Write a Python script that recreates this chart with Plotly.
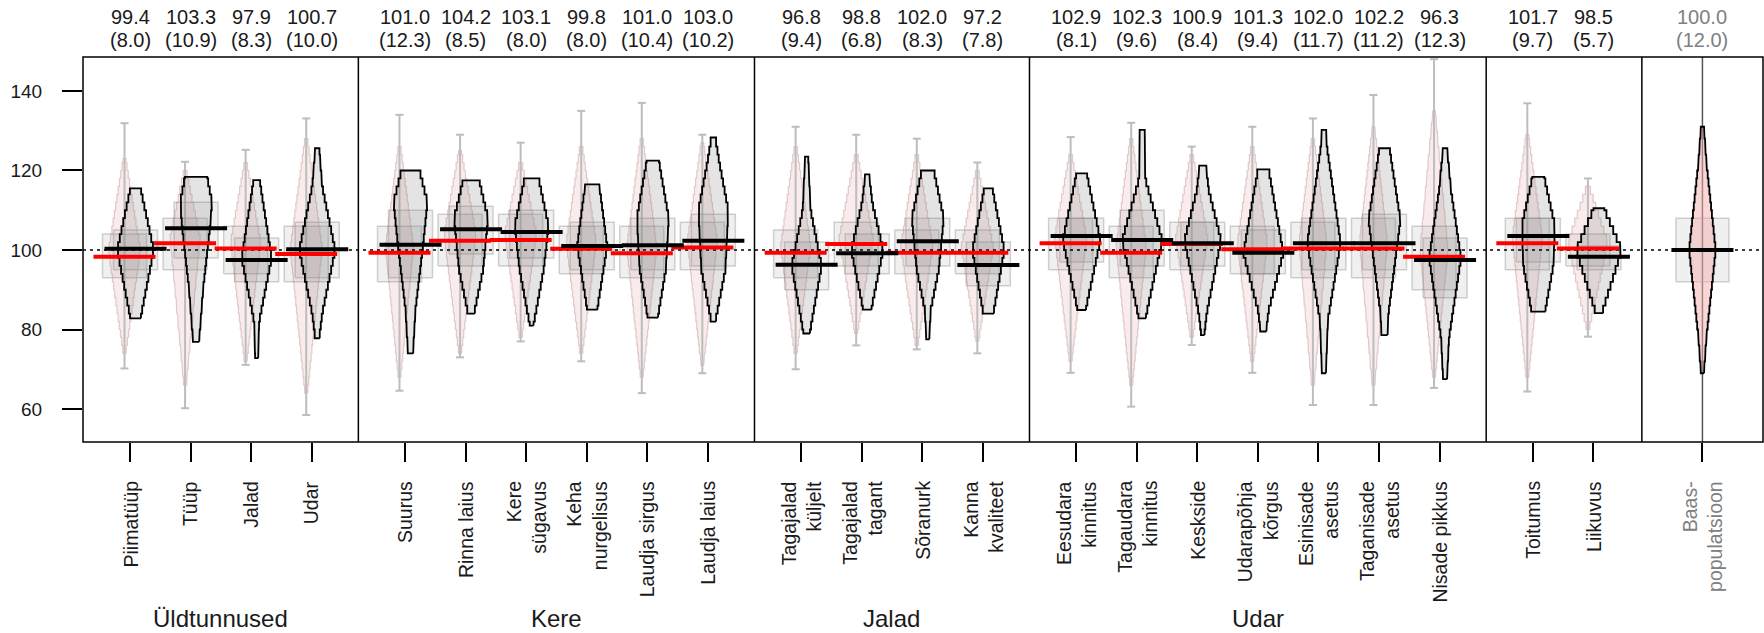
import numpy as np
import plotly.graph_objects as go

categories = ["Piimatüüp", "Tüüp", "Jalad", "Udar",
              "Suurus", "Rinna laius", "Kere<br>sügavus", "Keha<br>nurgelisus", "Laudja sirgus", "Laudja laius",
              "Tagajalad<br>küljelt", "Tagajalad<br>tagant", "Sõranurk", "Kanna<br>kvaliteet",
              "Eesudara<br>kinnitus", "Tagaudara<br>kinnitus", "Keskside", "Udarapõhja<br>kõrgus",
              "Esinisade<br>asetus", "Taganisade<br>asetus", "Nisade pikkus",
              "Toitumus", "Liikuvus", "Baas-<br>populatsioon"]
groups = [0, 0, 0, 0, 1, 1, 1, 1, 1, 1, 2, 2, 2, 2, 3, 3, 3, 3, 3, 3, 3, 4, 4, 5]
group_names = ["Üldtunnused", "Kere", "Jalad", "Udar"]

top_mean = [99.4, 103.3, 97.9, 100.7, 101.0, 104.2, 103.1, 99.8, 101.0, 103.0, 96.8, 98.8, 102.0, 97.2,
            102.9, 102.3, 100.9, 101.3, 102.0, 102.2, 96.3, 101.7, 98.5, 100.0]
top_sd = [8.0, 10.9, 8.3, 10.0, 12.3, 8.5, 8.0, 8.0, 10.4, 10.2, 9.4, 6.8, 8.3, 7.8,
          8.1, 9.6, 8.4, 9.4, 11.7, 11.2, 12.3, 9.7, 5.7, 12.0]

# comparison (pink) series, 23 trait categories
red_mean = [98.3, 101.7, 100.4, 99.0, 99.3, 102.3, 102.5, 100.3, 99.2, 100.6, 99.3, 101.5, 99.3, 99.3,
            101.7, 99.3, 101.5, 100.2, 100.4, 100.4, 98.3, 101.7, 100.4]
range_lo = [70.2, 60.2, 71.1, 58.5, 64.6, 73, 77, 72, 64, 69, 70, 76, 75, 74,
            69.1, 60.6, 76.1, 69.1, 61, 61, 65.3, 64.4, 78.2]
range_hi = [131.9, 122.2, 125.2, 133.1, 134, 129, 127, 135, 137, 129, 131, 129, 128, 122,
            128.4, 132, 126, 131, 133.1, 139, 148, 136.9, 118]
pink_lo = [74, 66, 72, 64, 68, 74, 78, 74, 68, 71, 74, 79, 76, 77, 72, 66, 78, 72, 66, 66, 68, 68, 80]
pink_hi = [123, 120, 122, 128, 126, 125, 122, 126, 128, 127, 126, 124, 124, 120, 124, 128, 124, 126, 128, 131, 135, 129, 116]
pink_w = [16, 15, 15, 16, 14, 16, 16, 15, 15, 15, 15, 17, 16, 16, 16, 15, 16, 15, 14, 14, 14, 15, 20]
pink_q1 = [93, 95, 94, 92, 92, 96, 96, 94, 93, 95, 93, 96, 94, 94, 95, 93, 95, 94, 93, 93, 90, 95, 96]
pink_q3 = [104, 108, 106, 106, 106, 109, 109, 106, 106, 107, 105, 107, 105, 105, 108, 106, 107, 106, 107, 108, 106, 108, 104]

# herd (black) series, 23 traits + base population
black_mean = [100.3, 105.5, 97.5, 100.2, 101.3, 105.2, 104.5, 101.0, 101.2, 102.3, 96.3, 99.2, 102.2, 96.2,
              103.5, 102.5, 101.7, 99.3, 101.7, 101.7, 97.5, 103.5, 98.3, 100.0]
black_q1 = [95, 98, 92, 93, 93, 99, 98, 95, 95, 96, 90, 94, 96, 91, 97, 96, 96, 94, 95, 95, 88, 97, 95, 92]
black_q3 = [105, 112, 103, 107, 110, 111, 110, 107, 108, 109, 102, 104, 108, 102, 108, 110, 107, 105, 108, 109, 103, 108, 101, 108]
# density outline knots: (value, half-width in px)
black_shape = [
    [(82.8, 5), (100, 18.3), (115.5, 5)],
    [(76.9, 3), (90, 7), (106, 14), (112, 16), (118.4, 11)],
    [(72.8, 1.5), (82, 2.5), (98, 15), (117.6, 3)],
    [(77.8, 2), (84, 5), (100, 18), (116, 5), (125.6, 2)],
    [(74, 2.5), (85, 5), (100, 12), (112, 17), (120, 9)],
    [(84, 3), (95, 12), (108, 17), (117.5, 8)],
    [(81, 1.5), (84, 4), (95, 12), (106, 17), (118, 7)],
    [(85, 5), (101, 15), (116.5, 7)],
    [(83, 5), (95, 13), (108, 16), (122.5, 6)],
    [(82, 2), (95, 12), (110, 15), (122, 6), (128.3, 2)],
    [(79, 3), (96, 15), (110, 4), (123.5, 1.5)],
    [(85, 4), (100, 16), (112, 5), (119, 2)],
    [(77.5, 1.5), (85, 3), (95, 11), (108, 16), (120, 6)],
    [(84, 5), (100, 16), (115.5, 4)],
    [(84.9, 4), (102.5, 18.8), (119.3, 5)],
    [(82.8, 3.3), (102.5, 20), (118, 3), (130.2, 2.5)],
    [(78.6, 1.5), (84.1, 4), (102.5, 18.3), (115, 6), (121.2, 3.3)],
    [(79.5, 3), (84.5, 5), (99.2, 20), (120.3, 5.3)],
    [(69, 2), (82.4, 4), (101.7, 16.7), (126, 3), (130.2, 2)],
    [(78.6, 3), (84.1, 4), (107.5, 16), (125.6, 5)],
    [(67.5, 2), (78, 4), (98, 16), (115, 6), (125.6, 2)],
    [(84.5, 6.7), (96, 15), (106, 16.7), (118.4, 5.8)],
    [(84.1, 3), (100, 22.8), (110.5, 5)],
    [(69, 1.5), (78, 4), (100, 13.3), (122, 4), (131, 1.5)],
]

y_ticks = [60, 80, 100, 120, 140]

# ---------------- geometry ----------------
PX = 60.55          # pixels per category unit
GAP = 0.54
pos = []
for i, g in enumerate(groups):
    p = i + GAP * min(g, 4)
    if g == 5:
        p += 0.8
    pos.append(p)
x_range = [pos[0] - 0.776, pos[-1] + 1.0]
y_range = [51.7, 148.55]
OFF = 5.5 / PX
TXT = "#1a1a1a"
FONT = "Liberation Sans, Arial, sans-serif"


def stair(center, knots, step=2.0):
    ys = [k[0] for k in knots]
    ws = [k[1] / PX for k in knots]
    lo, hi = ys[0], ys[-1]
    inner = [e for e in np.arange(np.ceil(lo / step) * step, hi, step) if lo + 0.3 < e < hi - 0.3]
    edges = [lo] + list(inner) + [hi]
    mids = [(edges[j] + edges[j + 1]) / 2 for j in range(len(edges) - 1)]
    w = np.interp(mids, ys, ws)
    xs, yv = [], []
    for j in range(len(mids)):
        xs += [center + w[j], center + w[j]]
        yv += [edges[j], edges[j + 1]]
    for j in reversed(range(len(mids))):
        xs += [center - w[j], center - w[j]]
        yv += [edges[j + 1], edges[j]]
    xs.append(xs[0]); yv.append(yv[0])
    return xs, yv


fig = go.Figure()
n = len(red_mean)

# base population reference vertical line
fig.add_trace(go.Scatter(x=[pos[-1], pos[-1]], y=y_range, mode="lines",
                         line=dict(color="#555555", width=1.5), hoverinfo="skip", showlegend=False))

# pink violins
for i in range(n):
    c = pos[i] - OFF
    knots = [(pink_lo[i], 1.2), (red_mean[i] + 1.5, pink_w[i]), (pink_hi[i], 1.2)]
    xs, ys = stair(c, knots)
    fig.add_trace(go.Scatter(x=xs, y=ys, mode="lines", fill="toself",
                             fillcolor="rgba(238,185,185,0.28)",
                             line=dict(color="rgba(200,165,165,0.55)", width=1.2),
                             hoverinfo="skip", showlegend=False))

# whiskers (range)
wx, wy = [], []
for i in range(n):
    c = pos[i] - OFF
    cw = 4 / PX
    wx += [c, c, None, c - cw, c + cw, None, c - cw, c + cw, None]
    wy += [range_lo[i], range_hi[i], None, range_lo[i], range_lo[i], None, range_hi[i], range_hi[i], None]
fig.add_trace(go.Scatter(x=wx, y=wy, mode="lines", line=dict(color="#bdbdbd", width=2),
                         hoverinfo="skip", showlegend=False))

# boxes
BW = 22 / PX
def add_box(c, q1, q3, bw=BW):
    fig.add_trace(go.Scatter(x=[c - bw, c + bw, c + bw, c - bw, c - bw], y=[q1, q1, q3, q3, q1],
                             mode="lines", fill="toself", fillcolor="rgba(150,150,150,0.14)",
                             line=dict(color="rgba(140,140,140,0.38)", width=1.5),
                             hoverinfo="skip", showlegend=False))

for i in range(n):
    add_box(pos[i] - OFF, pink_q1[i], pink_q3[i])
    add_box(pos[i] + OFF, black_q1[i], black_q3[i])
add_box(pos[-1], black_q1[-1], black_q3[-1], 26.5 / PX)

# black violins
for i in range(n + 1):
    base = i == n
    c = pos[i] if base else pos[i] + OFF
    xs, ys = stair(c, black_shape[i])
    fig.add_trace(go.Scatter(x=xs, y=ys, mode="lines", fill="toself",
                             fillcolor="rgba(245,175,175,0.5)" if base else "rgba(120,120,120,0.2)",
                             line=dict(color="black", width=1.8),
                             hoverinfo="skip", showlegend=False))

# reference dotted line at 100
fig.add_trace(go.Scatter(x=x_range, y=[100, 100], mode="lines",
                         line=dict(color="black", width=1.5, dash="3px,4px"),
                         hoverinfo="skip", showlegend=False))

# mean lines
HL = 31 / PX
rx, ry = [], []
for i in range(n):
    c = pos[i] - OFF
    rx += [c - HL, c + HL, None]
    ry += [red_mean[i], red_mean[i], None]
fig.add_trace(go.Scatter(x=rx, y=ry, mode="lines", line=dict(color="#ff0000", width=4),
                         hoverinfo="skip", showlegend=False))
bx, by = [], []
for i in range(n + 1):
    c = pos[i] if i == n else pos[i] + OFF
    bx += [c - HL, c + HL, None]
    by += [black_mean[i], black_mean[i], None]
fig.add_trace(go.Scatter(x=bx, y=by, mode="lines", line=dict(color="black", width=4),
                         hoverinfo="skip", showlegend=False))

# panel frame and dividers
shapes = [dict(type="rect", xref="paper", yref="paper", x0=0, x1=1, y0=0, y1=1,
               line=dict(color="black", width=1.5), layer="above")]
for g in range(4):
    last = max(j for j in range(len(groups)) if groups[j] == g)
    xd = (pos[last] + pos[last + 1]) / 2
    shapes.append(dict(type="line", xref="x", yref="paper", x0=xd, x1=xd, y0=0, y1=1,
                       line=dict(color="black", width=1.5), layer="above"))
xd = pos[-1] - 1.0
shapes.append(dict(type="line", xref="x", yref="paper", x0=xd, x1=xd, y0=0, y1=1,
                   line=dict(color="black", width=1.5), layer="above"))

PH = 385.0
annotations = []
for i in range(len(categories)):
    col = "#808080" if i == len(categories) - 1 else TXT
    annotations.append(dict(x=pos[i], y=-37 / PH, xref="x", yref="paper", text=categories[i],
                            textangle=-90, xanchor="center", yanchor="top", align="right",
                            showarrow=False, font=dict(size=19.5, color=col, family=FONT)))
    annotations.append(dict(x=pos[i], y=1 + 40 / PH, xref="x", yref="paper", text=f"{top_mean[i]:.1f}",
                            xanchor="center", yanchor="middle", showarrow=False,
                            font=dict(size=20, color=col, family=FONT)))
    annotations.append(dict(x=pos[i], y=1 + 17 / PH, xref="x", yref="paper", text=f"({top_sd[i]:.1f})",
                            xanchor="center", yanchor="middle", showarrow=False,
                            font=dict(size=20, color=col, family=FONT)))
for g, name in enumerate(group_names):
    idx = [j for j in range(len(groups)) if groups[j] == g]
    left = x_range[0] if g == 0 else (pos[idx[0] - 1] + pos[idx[0]]) / 2
    right = (pos[idx[-1]] + pos[idx[-1] + 1]) / 2
    annotations.append(dict(x=(left + right) / 2, y=-176 / PH, xref="x", yref="paper", text=name,
                            xanchor="center", yanchor="middle", showarrow=False,
                            font=dict(size=24, color=TXT, family=FONT)))

fig.update_layout(
    width=1764, height=633,
    margin=dict(l=83, r=1, t=57, b=191),
    plot_bgcolor="white", paper_bgcolor="white",
    shapes=shapes, annotations=annotations,
    xaxis=dict(range=x_range, tickvals=pos, ticktext=[""] * len(pos), ticks="outside",
               ticklen=19, tickwidth=1.5, tickcolor="black", showgrid=False, zeroline=False,
               showline=False),
    yaxis=dict(range=y_range, tickvals=y_ticks, ticks="outside", ticklen=20, tickwidth=1.5,
               tickcolor="black", showgrid=False, zeroline=False, showline=False,
               ticklabelstandoff=16, tickfont=dict(size=19, color=TXT, family=FONT)),
    font=dict(family=FONT),
)

fig.write_html("out.html", config={"displayModeBar": False},
               post_script="document.body.style.margin='0px';")
